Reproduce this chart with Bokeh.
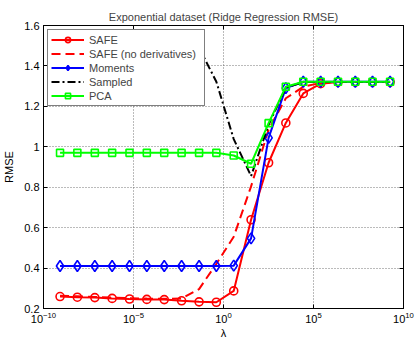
from bokeh.plotting import figure
from bokeh.models import (FixedTicker, LogAxis, LinearAxis, Range1d, Legend, CustomJSTickFormatter)
from bokeh.embed import file_html
from bokeh.resources import INLINE

# ---- data ----
lam = [8.3e-10, 7.6e-9, 7.1e-8, 6.5e-7, 6.0e-6, 5.5e-5, 5.1e-4, 4.7e-3, 4.4e-2, 4.0e-1,
       3.7, 34.0, 3.2e2, 2.9e3, 2.7e4, 2.5e5, 2.3e6, 2.1e7, 1.9e8, 1.8e9]
safe = [0.259, 0.256, 0.254, 0.250, 0.247, 0.245, 0.244, 0.238, 0.233, 0.231,
        0.287, 0.639, 0.921, 1.118, 1.264, 1.312, 1.320, 1.320, 1.320, 1.320]
safe_noderiv = [0.263, 0.260, 0.257, 0.254, 0.251, 0.249, 0.248, 0.249, 0.296, 0.421,
                0.555, 0.804, 1.085, 1.240, 1.297, 1.316, 1.320, 1.320, 1.320, 1.320]
moments = [0.410, 0.410, 0.410, 0.410, 0.410, 0.410, 0.410, 0.410, 0.410, 0.410,
           0.412, 0.547, 1.044, 1.290, 1.322, 1.322, 1.322, 1.322, 1.322, 1.322]
sampled = [1.56, 1.56, 1.56, 1.56, 1.56, 1.56, 1.56, 1.56, 1.49, 1.322,
           1.038, 0.855, 1.109, 1.292, 1.320, 1.320, 1.320, 1.320, 1.320, 1.320]
pca = [0.970, 0.970, 0.970, 0.970, 0.970, 0.970, 0.970, 0.970, 0.970, 0.970,
       0.957, 0.916, 1.117, 1.297, 1.322, 1.322, 1.322, 1.322, 1.322, 1.322]

x_ticks = [1e-10, 1e-5, 1.0, 1e5, 1e10]
y_ticks = [0.2, 0.4, 0.6, 0.8, 1.0, 1.2, 1.4, 1.6]

FONT = "Liberation Sans"

p = figure(width=417, height=341, x_axis_type="log", output_backend="svg",
           toolbar_location=None, x_range=Range1d(1e-10, 1e10), y_range=Range1d(0.2, 1.6),
           min_border_left=43, min_border_right=14, min_border_top=25, min_border_bottom=31,
           title="Exponential dataset (Ridge Regression RMSE)")

p.title.align = "center"
p.title.text_font = FONT
p.title.text_font_size = "11px"
p.title.text_font_style = "normal"
p.title.offset = 0
p.title.standoff = 6

p.outline_line_color = "black"
p.outline_line_width = 1
p.background_fill_color = "white"
p.border_fill_color = "white"

for ax in (p.xaxis[0], p.yaxis[0]):
    ax.major_tick_in = 4
    ax.major_tick_out = 0
    ax.minor_tick_in = 0
    ax.minor_tick_out = 0
    ax.axis_line_color = "black"
    ax.major_tick_line_color = "black"
    ax.major_label_text_font = FONT
    ax.major_label_text_font_size = "11px"
    ax.major_label_text_color = "black"
    ax.axis_label_text_font = FONT
    ax.axis_label_text_font_size = "11px"
    ax.axis_label_text_font_style = "normal"
    ax.axis_label_text_color = "black"

p.xaxis[0].ticker = FixedTicker(ticks=x_ticks, minor_ticks=[])
p.yaxis[0].ticker = FixedTicker(ticks=y_ticks, minor_ticks=[])
p.yaxis[0].formatter = CustomJSTickFormatter(code="return (Math.round(tick*10)/10).toString();")
p.xaxis[0].axis_label = "λ"
p.yaxis[0].axis_label = "RMSE"
p.xaxis[0].major_label_standoff = 3
p.xaxis[0].axis_label_standoff = 1
p.yaxis[0].major_label_standoff = 4
p.yaxis[0].axis_label_standoff = 6

# box ticks on top/right
top = LogAxis(ticker=FixedTicker(ticks=x_ticks, minor_ticks=[]), major_label_text_font_size="1px",
              major_label_text_alpha=0, major_tick_in=4, major_tick_out=0, major_label_standoff=0,
              axis_line_color="black")
right = LinearAxis(ticker=FixedTicker(ticks=y_ticks, minor_ticks=[]), major_label_text_font_size="1px",
                   major_label_text_alpha=0, major_tick_in=4, major_tick_out=0, major_label_standoff=0,
                   axis_line_color="black")
p.add_layout(top, "above")
p.add_layout(right, "right")

p.grid.grid_line_color = "#555555"
p.grid.grid_line_dash = "1 2"
p.grid.grid_line_alpha = 0.8
p.xgrid.ticker = FixedTicker(ticks=x_ticks)
p.ygrid.ticker = FixedTicker(ticks=y_ticks)

r1 = p.line(lam, safe, line_color="#ff0000", line_width=2)
s1 = p.scatter(lam, safe, marker="circle", size=8, line_color="#ff0000", line_width=1.6, fill_color=None)
r2 = p.line(lam, safe_noderiv, line_color="#ff0000", line_width=2, line_dash="9 5")
r3 = p.line(lam, moments, line_color="#0000ff", line_width=2)
s3 = p.scatter(lam, moments, marker="diamond", size=11, line_color="#0000ff", line_width=1.6, fill_color=None)
r4 = p.line(lam, sampled, line_color="black", line_width=2, line_dash="8 3 2 3")
r5 = p.line(lam, pca, line_color="#00ff00", line_width=2)
s5 = p.scatter(lam, pca, marker="square", size=7, line_color="#00ff00", line_width=1.6, fill_color=None)

legend = Legend(items=[("SAFE", [r1, s1]), ("SAFE (no derivatives)", [r2]),
                       ("Moments", [r3, s3]), ("Sampled", [r4]), ("PCA", [r5, s5])],
                location="top_left")
legend.label_text_font = FONT
legend.label_text_font_size = "11px"
legend.label_height = 13
legend.glyph_height = 13
legend.glyph_width = 33
legend.label_width = 112
legend.spacing = 1
legend.padding = 3
legend.margin = 4
legend.label_standoff = 5
legend.border_line_color = "black"
legend.border_line_width = 1.5
legend.background_fill_alpha = 1.0
p.add_layout(legend, "center")

open("out.html", "w").write(file_html(p, INLINE))
